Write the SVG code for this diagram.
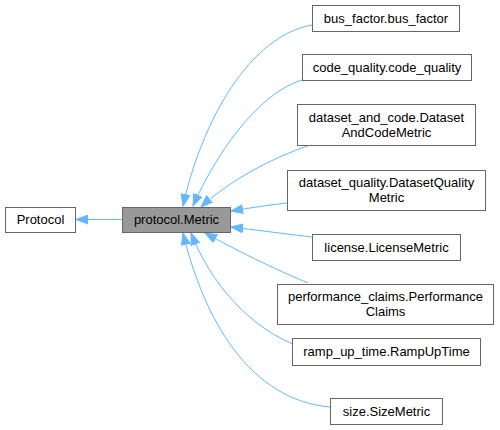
<svg xmlns="http://www.w3.org/2000/svg" width="500" height="430" viewBox="0 0 500 430">
<style>
.n rect{fill:#fff;stroke:#666;stroke-width:1}
.n.sel rect{fill:#999}
.n text{font-family:"Liberation Sans",Arial,sans-serif;font-size:13px;fill:#000;text-anchor:middle}
.e path{fill:none;stroke:#63b8ff;stroke-width:1;marker-end:url(#ah)}
</style>
<defs>
<marker id="ah" markerUnits="userSpaceOnUse" markerWidth="14" markerHeight="10" viewBox="0 -5 14 10" refX="12" refY="0" orient="auto">
<path d="M0,-4.5 L12,0 L0,4.5 z" fill="#63b8ff" stroke="#63b8ff" stroke-width="1"/>
</marker>
</defs>
<rect width="500" height="430" fill="#fff"/>
<g id="edges" class="e">
<path d="M122,219.5 L76,219.5"/>
<path d="M312,25 C250,36 202,120 183,206"/>
<path d="M302,80 C256,94 214,158 193,206"/>
<path d="M310,145 C272,158 230,180 201,207"/>
<path d="M287,203 C268,205 250,208 231,211"/>
<path d="M312,237 C286,234 256,230 231,227"/>
<path d="M308,283 C272,268 236,250 205,233"/>
<path d="M303,348 C250,330 210,282 191,233"/>
<path d="M330,407 C250,400 204,320 183,233"/>
</g>
<g id="protocol" class="n"><rect x="5.5" y="207.5" width="70" height="25"/><text x="40.5" y="224">Protocol</text></g>
<g id="metric" class="n sel"><rect x="122.5" y="207.5" width="108" height="25"/><text x="176.5" y="224">protocol.Metric</text></g>
<g id="bus_factor" class="n"><rect x="312.5" y="5.5" width="147" height="26"/><text x="386" y="22.5">bus_factor.bus_factor</text></g>
<g id="code_quality" class="n"><rect x="302.5" y="54.5" width="169" height="26"/><text x="387" y="71.5">code_quality.code_quality</text></g>
<g id="dataset_and_code" class="n"><rect x="297.5" y="104.5" width="178" height="41"/><text x="386.5" y="122">dataset_and_code.Dataset</text><text x="386.5" y="137">AndCodeMetric</text></g>
<g id="dataset_quality" class="n"><rect x="287.5" y="170.5" width="198" height="40"/><text x="386.5" y="187">dataset_quality.DatasetQuality</text><text x="386.5" y="202">Metric</text></g>
<g id="license" class="n"><rect x="312.5" y="234.5" width="148" height="26"/><text x="386.5" y="251.5">license.LicenseMetric</text></g>
<g id="performance" class="n"><rect x="277.5" y="284.5" width="216" height="40"/><text x="385.5" y="301">performance_claims.Performance</text><text x="385.5" y="316">Claims</text></g>
<g id="ramp_up_time" class="n"><rect x="292.5" y="338.5" width="188" height="27"/><text x="386.5" y="356">ramp_up_time.RampUpTime</text></g>
<g id="size" class="n"><rect x="330.5" y="398.5" width="112" height="26"/><text x="386.5" y="415.5">size.SizeMetric</text></g>
</svg>
